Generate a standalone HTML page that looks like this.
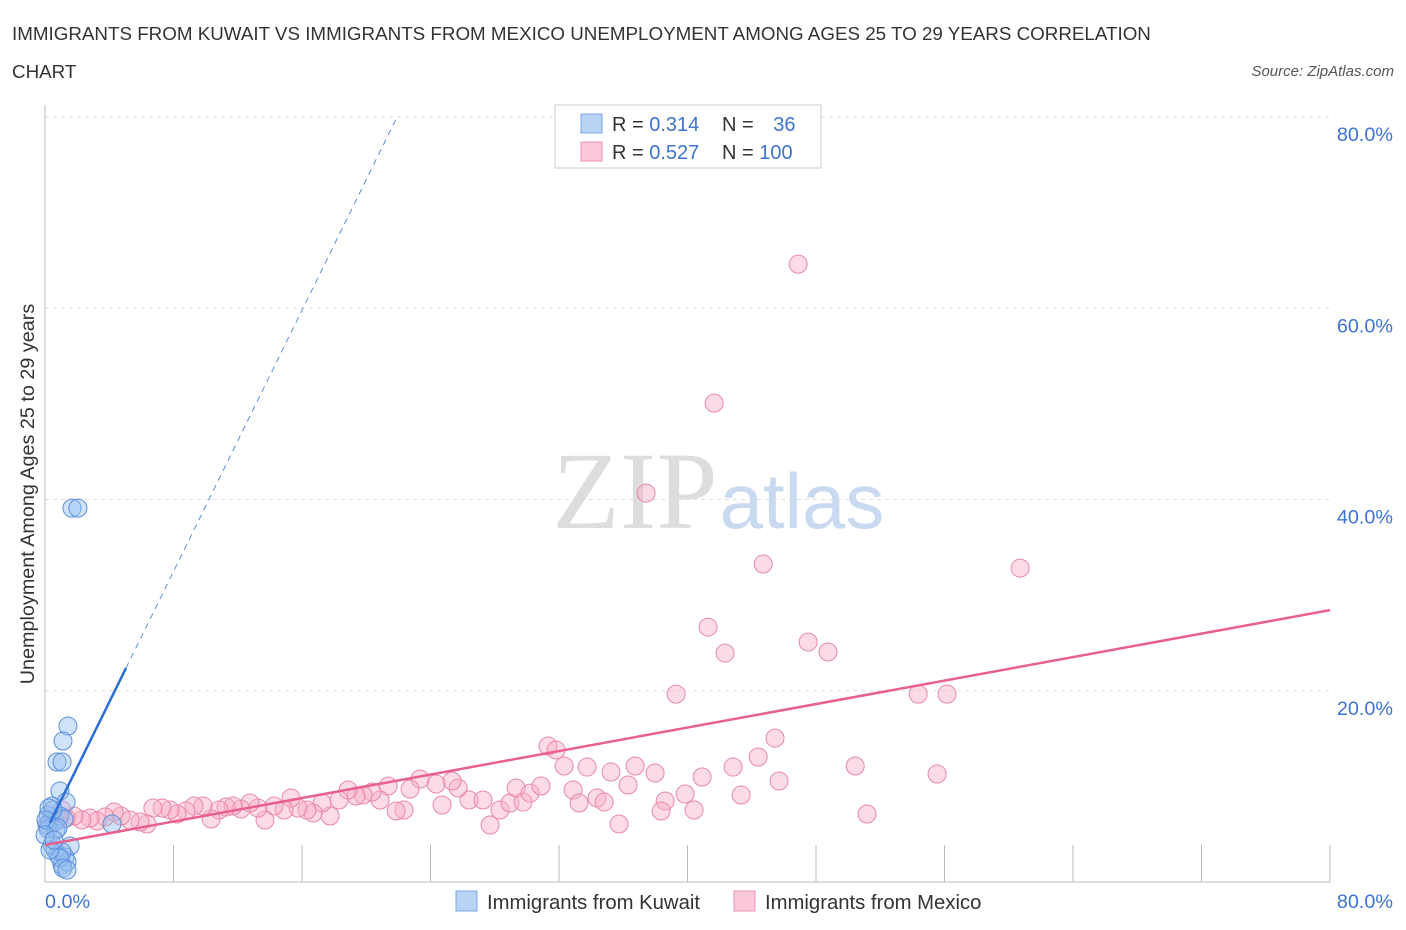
<!DOCTYPE html>
<html><head><meta charset="utf-8"><style>
body{margin:0;background:#fff;font-family:"Liberation Sans",sans-serif;}
svg{display:block}
</style></head><body>
<svg id="chart" width="1406" height="930">
<text x="12" y="40" font-size="18.8" fill="#333">IMMIGRANTS FROM KUWAIT VS IMMIGRANTS FROM MEXICO UNEMPLOYMENT AMONG AGES 25 TO 29 YEARS CORRELATION</text>
<text x="12" y="78" font-size="18.8" fill="#333">CHART</text>
<text x="1394" y="76" font-size="15" fill="#555" font-style="italic" text-anchor="end">Source: ZipAtlas.com</text>
<text x="635" y="528" font-size="110" fill="#ddd" font-family="Liberation Serif,serif" text-anchor="middle">ZIP</text>
<text x="802" y="528" font-size="78" fill="#c9daf0" text-anchor="middle">atlas</text>
<text transform="translate(34,494) rotate(-90)" font-size="19.8" fill="#333" text-anchor="middle">Unemployment Among Ages 25 to 29 years</text>
<g id="grid"></g><g id="marks"></g><g id="lines"></g>
<g>
<rect x="555" y="105" width="266" height="63" fill="#fff" stroke="#ccc"/>
<rect x="581" y="114" width="21" height="19" fill="#b9d3f5" stroke="#7aa7e3"/>
<rect x="581" y="142" width="21" height="19" fill="#fbc8d7" stroke="#ee93b0"/>
<text x="612" y="131" font-size="20" fill="#333">R = <tspan fill="#3d73d1">0.314</tspan></text>
<text x="722" y="131" font-size="20" fill="#333">N = <tspan fill="#3d73d1" dx="14">36</tspan></text>
<text x="612" y="159" font-size="20" fill="#333">R = <tspan fill="#3d73d1">0.527</tspan></text>
<text x="722" y="159" font-size="20" fill="#333">N = <tspan fill="#3d73d1">100</tspan></text>
</g>
<g>
<rect x="456" y="891" width="21" height="20" fill="#b9d3f5" stroke="#7aa7e3"/>
<text x="487" y="909" font-size="20.3" fill="#333">Immigrants from Kuwait</text>
<rect x="734" y="891" width="21" height="20" fill="#fbc8d7" stroke="#ee93b0"/>
<text x="765" y="909" font-size="20.3" fill="#333">Immigrants from Mexico</text>
</g>
</svg>
<script>
const yTicks=[20,40,60,80];
const yTickLabels=["20.0%","40.0%","60.0%","80.0%"];
const kuwaitX=[1.68,2.05,1.43,1.12,0.75,1.06,0.93,1.31,0.44,0.19,0.31,0.62,0.12,0.93,1.18,4.17,0.62,0.81,1.56,1.25,1.06,1.37,0.44,0.19,0.68,0.50,0.25,0.06,0.81,1.06,0.93,1.12,0.31,0.00,0.56,1.37];
const kuwaitY=[39.10,39.10,16.31,14.74,12.55,12.55,9.51,8.36,7.95,7.00,6.27,6.27,5.96,6.90,6.59,6.06,3.35,2.82,3.76,2.61,1.78,2.09,3.87,5.54,5.44,7.53,7.74,6.48,5.65,3.14,2.51,1.46,3.35,4.91,4.39,1.25];
const mexicoX=[46.89,41.66,37.42,44.71,60.71,41.28,47.51,42.34,48.75,39.29,54.36,56.16,31.32,31.82,45.45,32.32,33.75,35.24,36.74,37.98,40.91,42.84,44.40,45.70,50.44,55.54,32.88,33.25,34.37,34.81,36.30,38.61,39.85,38.36,40.41,43.34,51.18,35.74,27.71,28.33,28.95,29.33,29.76,30.20,30.88,26.40,27.27,24.72,25.72,25.34,24.35,23.35,22.73,22.35,21.86,21.36,20.86,20.36,19.80,19.36,18.87,18.31,17.75,17.25,16.69,16.31,15.75,15.32,14.88,14.26,13.70,13.26,12.76,12.20,11.71,11.27,10.83,10.34,9.84,9.28,8.78,8.22,7.78,7.29,6.72,6.35,5.92,5.29,4.73,4.30,3.74,3.24,2.80,2.30,1.81,1.31,0.81,0.44,0.19,1.06];
const mexicoY=[64.61,50.08,40.67,33.25,32.83,26.66,25.09,23.94,24.05,19.65,19.65,19.65,14.22,13.80,15.05,12.13,12.02,11.50,12.13,11.40,10.98,12.02,13.07,10.56,12.13,11.29,9.62,8.26,8.78,8.36,10.14,8.47,9.20,7.42,7.53,9.10,7.11,6.06,5.96,7.53,8.26,9.83,8.36,9.30,10.04,8.57,8.57,8.05,9.83,10.56,10.25,10.77,9.72,7.53,7.42,10.04,8.57,9.41,9.10,8.99,9.62,8.57,6.90,8.26,7.21,7.53,7.74,8.78,7.53,7.95,6.48,7.74,8.26,7.63,7.95,7.84,7.53,6.59,7.95,7.95,7.42,7.11,7.53,7.74,7.74,6.06,6.27,6.48,6.90,7.32,6.80,6.38,6.69,6.48,6.90,6.69,6.48,6.90,5.85,7.53];
const kuwaitTrend=[5.15,3.415]; // intercept, slope
const mexicoTrend=[3.87,0.307];
const NS="http://www.w3.org/2000/svg";
const sx=v=>45+v*16.0625, sy=v=>882-v*9.5625;
function mk(tag,attrs,parent){const e=document.createElementNS(NS,tag);for(const k in attrs)e.setAttribute(k,attrs[k]);parent.appendChild(e);return e;}
const grid=document.getElementById('grid'),marks=document.getElementById('marks'),lines=document.getElementById('lines');
yTicks.forEach((t,i)=>{
 const g=mk('line',{x1:45,x2:1330,y1:sy(t),y2:sy(t),stroke:'#ddd','stroke-dasharray':'4,4'},grid);
 
 
 const l=mk('text',{x:1393,y:sy(t)+24,'font-size':19.8,fill:'#3d73d1','text-anchor':'end'},grid);
 l.textContent=yTickLabels[i];
 
 
});
const ax=mk('line',{x1:45,x2:1330,y1:882,y2:882,stroke:'#bbb'},grid);


const ay=mk('line',{x1:45,x2:45,y1:105,y2:882,stroke:'#bbb'},grid);


for(let i=1;i<=10;i++){const t=mk('line',{x1:sx(i*8),x2:sx(i*8),y1:845,y2:882,stroke:'#bbb'},grid);
 
 }
[[0,'start','0.0%'],[80,'end','80.0%']].forEach(([v,a,s])=>{const t=mk('text',{x:v?1393:45,y:908,'font-size':19.8,fill:'#3d73d1','text-anchor':a},grid);t.textContent=s;
 
 });
mexicoX.forEach((x,i)=>{const c=mk('circle',{cx:sx(x),cy:sy(mexicoY[i]),r:9,fill:'rgba(248,175,198,0.45)',stroke:'#e889a6','stroke-width':1},marks);
 
 });
kuwaitX.forEach((x,i)=>{const c=mk('circle',{cx:sx(x),cy:sy(kuwaitY[i]),r:9,fill:'rgba(150,190,240,0.45)',stroke:'#5a8fdc','stroke-width':1},marks);
 
 });
const pm=mk('line',{x1:sx(0),y1:sy(mexicoTrend[0]),x2:sx(80),y2:sy(mexicoTrend[0]+80*mexicoTrend[1]),stroke:'#e8608e','stroke-width':2.5},lines);


const kEnd=5.04,kTop=(80-kuwaitTrend[0])/kuwaitTrend[1];
const kb=mk('line',{x1:sx(0.3),y1:sy(kuwaitTrend[0]+0.3*kuwaitTrend[1]),x2:sx(kEnd),y2:sy(kuwaitTrend[0]+kEnd*kuwaitTrend[1]),stroke:'#2a6fd6','stroke-width':2.5},lines);


const kd=mk('line',{x1:sx(kEnd),y1:sy(kuwaitTrend[0]+kEnd*kuwaitTrend[1]),x2:sx(kTop),y2:sy(80),stroke:'#5a8fdc','stroke-width':1,'stroke-dasharray':'6,5'},lines);


</script>
</body></html>
